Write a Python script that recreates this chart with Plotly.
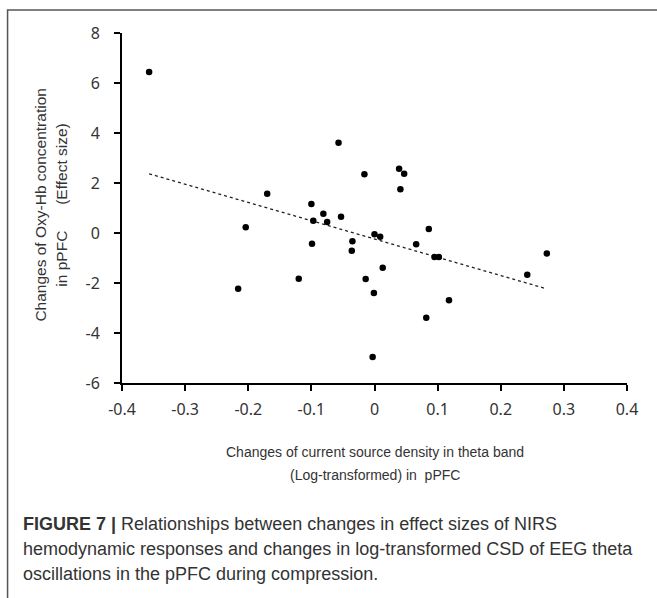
import plotly.graph_objects as go

# Data
csd_theta = [-0.357, -0.216, -0.204, -0.170, -0.120, -0.100, -0.097, -0.099, -0.081, -0.075,
             -0.057, -0.053, -0.035, -0.036, -0.016, -0.014, -0.001, -0.003, 0.000, 0.009,
             0.013, 0.039, 0.047, 0.041, 0.066, 0.082, 0.086, 0.095, 0.102, 0.118,
             0.242, 0.273]
oxy_hb = [6.44, -2.23, 0.23, 1.57, -1.83, 1.16, 0.49, -0.43, 0.77, 0.44,
          3.61, 0.65, -0.33, -0.71, 2.35, -1.84, -2.40, -4.96, -0.05, -0.15,
          -1.39, 2.57, 2.37, 1.75, -0.45, -3.39, 0.16, -0.96, -0.96, -2.69,
          -1.67, -0.82]
trend_x = [-0.357, 0.2725]
trend_slope = -7.31
trend_intercept = -0.24
x_ticks = [-0.4, -0.3, -0.2, -0.1, 0, 0.1, 0.2, 0.3, 0.4]
x_tick_labels = ["-0.4", "-0.3", "-0.2", "-0.1", "0", "0.1", "0.2", "0.3", "0.4"]
y_ticks = [-6, -4, -2, 0, 2, 4, 6, 8]
y_tick_labels = ["-6", "-4", "-2", "0", "2", "4", "6", "8"]

W, H = 657, 598
L, R, T, B = 122.3, 30.3, 33, 215
PW, PH = W - L - R, H - T - B


def px(xp):
    return (xp - L) / PW


def py(yp):
    return (H - B - yp) / PH


trend_y = [trend_slope * v + trend_intercept for v in trend_x]

fig = go.Figure()
fig.add_trace(go.Scatter(x=trend_x, y=trend_y, mode="lines",
                         line=dict(color="#222", width=1.3, dash="dot"),
                         hoverinfo="skip", showlegend=False))
fig.add_trace(go.Scatter(x=csd_theta, y=oxy_hb, mode="markers",
                         marker=dict(color="black", size=6.5),
                         showlegend=False))

tickfont = dict(family="Noto Sans", size=16, color="#333")
fig.update_xaxes(range=[-0.4, 0.4], tickvals=x_ticks, ticktext=x_tick_labels,
                 showgrid=False, zeroline=False, showline=True, linecolor="black",
                 linewidth=2, ticks="outside", ticklen=6, tickwidth=1.5,
                 tickcolor="black", tickfont=tickfont, anchor="y",
                 ticklabelstandoff=5)
fig.update_yaxes(range=[-6, 8], tickvals=y_ticks, ticktext=y_tick_labels,
                 showgrid=False, zeroline=False,
                 showline=True, linecolor="black", linewidth=2, ticks="outside",
                 ticklen=6, tickwidth=1.5, tickcolor="black", tickfont=tickfont,
                 anchor="x", ticklabelstandoff=11)

lab = dict(family="Liberation Sans, Arial", size=14, color="#333")
ylab = dict(family="Liberation Sans, Arial", size=15.5, color="#333")
ann = [
    dict(x=px(375), y=py(452), text="Changes of current source density in theta band", font=lab),
    dict(x=px(375), y=py(475), text="(Log-transformed) in  pPFC", font=lab),
    dict(x=px(40), y=py(205), text="Changes of Oxy-Hb concentration", textangle=-90, font=ylab),
    dict(x=px(61), y=py(205), text="in pPFC      (Effect size)", textangle=-90, font=ylab),
]
for a in ann:
    fig.add_annotation(xref="paper", yref="paper", showarrow=False,
                       xanchor="center", yanchor="middle", **a)

cap = dict(family="Liberation Sans, Arial", size=18, color="#333")
caption_lines = [
    "<b>FIGURE 7 |</b> Relationships between changes in effect sizes of NIRS",
    "hemodynamic responses and changes in log-transformed CSD of EEG theta",
    "oscillations in the pPFC during compression.",
]
for i, line in enumerate(caption_lines):
    fig.add_annotation(xref="paper", yref="paper", x=px(21), y=py(524 + 25 * i),
                       text=line, showarrow=False, font=cap,
                       xanchor="left", yanchor="middle")

fig.add_shape(type="rect", xref="paper", yref="paper",
              x0=px(8), x1=px(700), y0=py(700), y1=py(10),
              line=dict(color="#555", width=1.5), layer="below")

fig.update_layout(width=W, height=H, margin=dict(l=L, r=R, t=T, b=B),
                  plot_bgcolor="white", paper_bgcolor="white")

fig.write_html("out.html")
